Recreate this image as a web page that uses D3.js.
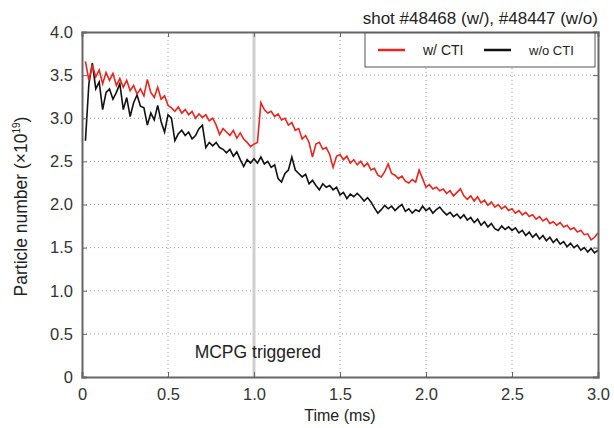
<!DOCTYPE html>
<html>
<head>
<meta charset="utf-8">
<script src="https://cdn.jsdelivr.net/npm/d3@7"></script>
<style>
  body { margin: 0; background: #fff; }
  text { font-family: "Liberation Sans", Arial, sans-serif; }
</style>
</head>
<body>
<div id="chart"></div>
<script>
// time grid (ms) and the two traces
var times = d3.range(1, 151).map(i => i * 0.02);

var withCTI = [
  3.66, 3.44, 3.62, 3.48, 3.56, 3.40, 3.53, 3.44, 3.52, 3.38,
  3.46, 3.36, 3.44, 3.32, 3.38, 3.28, 3.34, 3.26, 3.45, 3.30,
  3.24, 3.36, 3.22, 3.26, 3.15, 3.12, 3.08, 3.13, 3.06, 3.10,
  3.04, 3.08, 3.00, 3.05, 3.01, 3.04, 2.97, 3.00, 2.92, 2.81,
  2.88, 2.84, 2.80, 2.86, 2.77, 2.83, 2.76, 2.72, 2.67, 2.70,
  2.72, 3.18, 3.10, 3.06, 3.08, 3.02, 3.05, 2.98, 3.00, 2.92,
  2.95, 2.86, 2.88, 2.76, 2.80, 2.72, 2.55, 2.70, 2.72, 2.64,
  2.66, 2.58, 2.43, 2.56, 2.58, 2.52, 2.56, 2.48, 2.52, 2.46,
  2.50, 2.44, 2.48, 2.40, 2.42, 2.34, 2.32, 2.38, 2.47, 2.36,
  2.34, 2.30, 2.33, 2.27, 2.25, 2.29, 2.26, 2.40, 2.30, 2.20,
  2.23, 2.18, 2.20, 2.16, 2.18, 2.13, 2.16, 2.10, 2.14, 2.18,
  2.10, 2.06, 2.10, 2.04, 2.09, 2.02, 2.05, 1.99, 2.03, 1.97,
  2.00, 1.95, 1.98, 1.93, 1.95, 1.90, 1.93, 1.88, 1.91, 1.86,
  1.88, 1.83, 1.86, 1.81, 1.84, 1.78, 1.80, 1.76, 1.79, 1.74,
  1.76, 1.71, 1.73, 1.68, 1.70, 1.65, 1.66, 1.59, 1.62, 1.67
];

var withoutCTI = [
  2.74, 3.40, 3.64, 3.34, 3.42, 3.10, 3.30, 3.34, 3.22, 3.30,
  3.40, 3.10, 3.24, 3.02, 3.18, 3.27, 3.14, 3.12, 2.92, 3.06,
  2.98, 3.15, 2.96, 2.84, 3.04, 3.00, 2.74, 2.82, 2.86, 2.80,
  2.84, 2.76, 2.80, 2.88, 2.92, 2.66, 2.72, 2.68, 2.72, 2.66,
  2.64, 2.60, 2.64, 2.56, 2.61, 2.52, 2.44, 2.52, 2.48, 2.53,
  2.48, 2.55, 2.47, 2.50, 2.43, 2.46, 2.30, 2.26, 2.36, 2.40,
  2.55, 2.40, 2.36, 2.32, 2.35, 2.24, 2.28, 2.22, 2.17, 2.24,
  2.20, 2.22, 2.17, 2.20, 2.11, 2.14, 2.07, 2.12, 2.09, 2.13,
  2.09, 2.04, 2.08, 2.03, 1.96, 1.90, 1.94, 1.99, 1.95, 1.98,
  1.93, 1.97, 2.00, 1.92, 1.95, 1.90, 1.94, 1.92, 1.98, 1.93,
  1.96, 1.90, 1.94, 1.97, 1.92, 1.88, 1.91, 1.86, 1.89, 1.84,
  1.88, 1.82, 1.85, 1.79, 1.83, 1.76, 1.80, 1.74, 1.78, 1.72,
  1.70, 1.75, 1.71, 1.74, 1.70, 1.73, 1.67, 1.70, 1.64, 1.68,
  1.62, 1.66, 1.60, 1.64, 1.58, 1.62, 1.56, 1.60, 1.54, 1.57,
  1.51, 1.55, 1.50, 1.53, 1.47, 1.50, 1.45, 1.49, 1.44, 1.47
];

var xTicks = [0, 0.5, 1.0, 1.5, 2.0, 2.5, 3.0];
var yTicks = [0, 0.5, 1.0, 1.5, 2.0, 2.5, 3.0, 3.5, 4.0];
var triggerTime = 1.0;

var width = 614, height = 428;
var margin = { top: 32, right: 16, bottom: 51, left: 82 };
var innerW = width - margin.left - margin.right;
var innerH = height - margin.top - margin.bottom;

var svg = d3.select("#chart").append("svg")
  .attr("width", width)
  .attr("height", height);

var g = svg.append("g")
  .attr("transform", "translate(" + margin.left + "," + margin.top + ")");

var x = d3.scaleLinear().domain([0, 3]).range([0, innerW]);
var y = d3.scaleLinear().domain([0, 4]).range([innerH, 0]);

var fmt = d => d === 0 ? "0" : d.toFixed(1);

// dotted grid
g.append("g").selectAll("line")
  .data(xTicks.slice(1, -1))
  .enter().append("line")
  .attr("x1", d => x(d)).attr("x2", d => x(d))
  .attr("y1", 0).attr("y2", innerH)
  .attr("stroke", "#999").attr("stroke-width", 1)
  .attr("stroke-dasharray", "1,3");

g.append("g").selectAll("line")
  .data(yTicks.slice(1, -1))
  .enter().append("line")
  .attr("x1", 0).attr("x2", innerW)
  .attr("y1", d => y(d)).attr("y2", d => y(d))
  .attr("stroke", "#999").attr("stroke-width", 1)
  .attr("stroke-dasharray", "1,3");

// MCPG trigger marker
g.append("line")
  .attr("x1", x(triggerTime)).attr("x2", x(triggerTime))
  .attr("y1", 0).attr("y2", innerH)
  .attr("stroke", "#cfcfcf").attr("stroke-width", 3);

g.append("text")
  .attr("x", x(0.655)).attr("y", y(0.22))
  .attr("font-size", 17.5).attr("fill", "#222")
  .text("MCPG triggered");

// traces
var line = d3.line()
  .x(d => x(d[0]))
  .y(d => y(d[1]));

g.append("path")
  .datum(times.map((t, i) => [t, withoutCTI[i]]))
  .attr("d", line)
  .attr("fill", "none")
  .attr("stroke", "#111")
  .attr("stroke-width", 1.6);

g.append("path")
  .datum(times.map((t, i) => [t, withCTI[i]]))
  .attr("d", line)
  .attr("fill", "none")
  .attr("stroke", "#e8251f")
  .attr("stroke-width", 1.6);

// axes
g.append("g")
  .attr("transform", "translate(0," + innerH + ")")
  .call(d3.axisBottom(x).tickValues(xTicks).tickFormat(fmt).tickSize(-5).tickPadding(11));

g.append("g")
  .call(d3.axisLeft(y).tickValues(yTicks).tickFormat(fmt).tickSize(-5).tickPadding(9));

g.append("g")
  .call(d3.axisRight(y).tickValues(yTicks).tickFormat("").tickSize(-5))
  .attr("transform", "translate(" + innerW + ",0)");

g.append("g")
  .call(d3.axisTop(x).tickValues(xTicks).tickFormat("").tickSize(-5));

g.selectAll(".domain").attr("stroke", "#666").attr("stroke-width", 2);
g.selectAll(".tick line").attr("stroke", "#666");
g.selectAll(".tick text")
  .attr("font-size", 16.5)
  .attr("fill", "#333")
  .attr("font-family", "Liberation Sans, Arial, sans-serif");

// axis labels and title
svg.append("text")
  .attr("x", margin.left + innerW / 2)
  .attr("y", 421)
  .attr("text-anchor", "middle")
  .attr("font-size", 16).attr("fill", "#222")
  .text("Time (ms)");

var yl = svg.append("text")
  .attr("transform", "translate(27," + (margin.top + innerH / 2 + 2) + ") rotate(-90)")
  .attr("text-anchor", "middle")
  .attr("font-size", 17.5).attr("fill", "#222");
yl.append("tspan").text("Particle number (×10");
yl.append("tspan").attr("font-size", 10).attr("dy", -7).text("19");
yl.append("tspan").attr("dy", 7).text(")");

svg.append("text")
  .attr("x", margin.left + innerW)
  .attr("y", 24)
  .attr("text-anchor", "end")
  .attr("font-size", 17).attr("fill", "#222")
  .text("shot #48468 (w/), #48447 (w/o)");

// legend
var legend = svg.append("g").attr("transform", "translate(365,33)");
legend.append("rect")
  .attr("width", 230).attr("height", 34)
  .attr("fill", "#fff").attr("stroke", "#555").attr("stroke-width", 1);

var items = [
  { label: "w/ CTI", color: "#e8251f", lx: 13, tx: 58, size: 14 },
  { label: "w/o CTI", color: "#111", lx: 119, tx: 164, size: 13 }
];
items.forEach(function (it) {
  legend.append("line")
    .attr("x1", it.lx).attr("x2", it.lx + 27)
    .attr("y1", 17).attr("y2", 17)
    .attr("stroke", it.color).attr("stroke-width", 2.5);
  legend.append("text")
    .attr("x", it.tx).attr("y", 22)
    .attr("font-size", it.size).attr("fill", "#222")
    .text(it.label);
});
</script>
</body>
</html>
